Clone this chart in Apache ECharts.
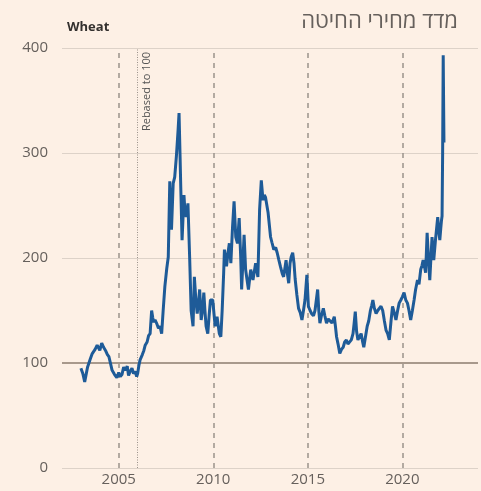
<!DOCTYPE html>
<html>
<head>
<meta charset="utf-8">
<script src="https://cdn.jsdelivr.net/npm/echarts@6/dist/echarts.min.js"></script>
<style>
html,body{margin:0;padding:0;background:#fdf0e5;}
#chart{width:481px;height:491px;}
</style>
</head>
<body>
<div id="chart"></div>
<script>
const titleText = 'מדד מחירי החיטה';
const seriesName = 'Wheat';
const rebaseYear = 2006;
const rebaseLabel = 'Rebased to 100';
const guideYears = [2005, 2010, 2015, 2020];
const yTicks = [0, 100, 200, 300, 400];

const dates = [
2003.0,2003.1,2003.2,2003.35,2003.5,2003.6,2003.75,2003.86,2004.0,2004.1,2004.2,2004.3,2004.4,2004.48,2004.56,2004.65,2004.78,2004.9,
2005.0,2005.08,2005.17,2005.26,2005.35,2005.45,2005.52,2005.6,2005.7,2005.78,2005.87,2005.95,
2006.0,2006.07,2006.13,2006.25,2006.33,2006.4,2006.5,2006.58,2006.66,2006.74,2006.8,2006.85,2006.92,
2007.0,2007.1,2007.18,2007.27,2007.35,2007.44,2007.54,2007.62,2007.7,2007.75,2007.79,2007.88,2007.96,
2008.05,2008.14,2008.19,2008.24,2008.28,2008.35,2008.45,2008.5,2008.57,2008.66,2008.75,2008.83,2008.93,
2009.0,2009.08,2009.15,2009.22,2009.28,2009.36,2009.43,2009.5,2009.56,2009.62,2009.71,2009.78,2009.85,2009.97,
2010.1,2010.2,2010.32,2010.4,2010.47,2010.55,2010.59,2010.7,2010.78,2010.85,2010.93,
2011.02,2011.1,2011.19,2011.28,2011.37,2011.45,2011.5,2011.63,2011.71,2011.78,2011.86,2011.98,
2012.1,2012.24,2012.36,2012.45,2012.54,2012.63,2012.7,2012.76,2012.9,
2013.03,2013.1,2013.2,2013.3,2013.38,2013.47,2013.55,2013.65,2013.72,2013.85,2013.92,2013.99,
2014.06,2014.12,2014.2,2014.27,2014.33,2014.42,2014.51,2014.6,2014.69,2014.77,2014.85,2014.95,
2015.03,2015.12,2015.2,2015.3,2015.38,2015.45,2015.52,2015.58,2015.64,2015.72,2015.82,2015.9,2015.99,
2016.08,2016.17,2016.28,2016.4,2016.46,2016.52,2016.6,2016.69,2016.78,2016.87,2016.95,
2017.04,2017.12,2017.21,2017.3,2017.39,2017.45,2017.51,2017.58,2017.65,2017.73,2017.82,2017.9,2017.96,
2018.05,2018.14,2018.22,2018.31,2018.38,2018.44,2018.52,2018.61,2018.7,2018.78,2018.87,2018.96,
2019.05,2019.14,2019.22,2019.31,2019.4,2019.48,2019.57,2019.66,2019.75,2019.83,2019.92,
2020.0,2020.09,2020.18,2020.27,2020.35,2020.44,2020.53,2020.62,2020.7,2020.8,2020.88,2020.97,
2021.04,2021.1,2021.17,2021.23,2021.31,2021.38,2021.45,2021.51,2021.57,2021.66,2021.75,2021.81,2021.87,2021.93,2021.98,
2022.03,2022.07,2022.1,2022.13,2022.16,2022.18,2022.2
];
const values = [
95,90,82,96,104,109,113,117,112,119,115,112,108,106,100,93,89,86,
91,87,89,96,93,97,88,92,95,90,92,87,
90,98,103,108,112,117,120,126,128,150,143,139,141,
138,133,135,128,150,173,190,201,273,240,227,271,277,
297,322,338,300,268,217,260,245,239,252,201,150,135,
182,160,147,158,170,141,150,167,150,135,128,145,160,160,
135,144,128,125,150,186,208,192,205,214,195,
230,254,220,214,238,201,170,222,189,180,170,189,
179,195,182,246,274,255,260,258,243,
220,215,208,210,205,198,192,185,182,198,185,176,
195,201,205,195,180,165,152,148,141,150,160,184,
154,150,147,145,150,160,170,150,138,145,152,145,138,
142,141,138,144,135,125,118,109,113,115,120,
122,118,117,122,128,138,149,130,122,125,128,120,115,
125,135,140,150,155,160,152,147,150,152,154,150,
140,131,128,122,140,154,148,141,150,157,160,
163,167,160,157,150,141,150,160,170,179,175,189,
193,198,192,186,224,200,179,200,220,198,217,228,239,225,217,
228,236,240,300,393,350,310
];

const data = dates.map((d, i) => [d, values[i]]);

const chart = echarts.init(document.getElementById('chart'), null, {renderer: 'canvas'});
const FONT = "'Open Sans', 'DejaVu Sans', sans-serif";

chart.setOption({
  backgroundColor: '#fdf0e5',
  animation: false,
  title: [
    {text: seriesName, left: 62, top: 16, textStyle: {fontFamily: FONT, fontSize: 13, fontWeight: 'bold', color: '#33302e'}},
    {text: titleText, right: 18, top: 6, textStyle: {fontFamily: FONT, fontSize: 22, fontWeight: 'normal', color: '#66605c'}}
  ],
  grid: {left: 62, right: 0, top: 48, bottom: 23, containLabel: false},
  xAxis: {
    type: 'value', min: 2002, max: 2024, interval: 1,
    axisLine: {show: false}, axisTick: {show: false}, splitLine: {show: false},
    axisLabel: {
      fontFamily: FONT, fontSize: 15, color: '#66605c', margin: 4,
      formatter: v => guideYears.includes(v) ? String(v) : ''
    }
  },
  yAxis: {
    type: 'value', min: 0, max: 400, interval: 100,
    axisLine: {show: false}, axisTick: {show: false},
    splitLine: {lineStyle: {color: '#ddd2c8', width: 1}},
    axisLabel: {fontFamily: FONT, fontSize: 15, color: '#66605c', margin: 14,
      formatter: v => yTicks.includes(v) ? String(v) : ''}
  },
  series: [
    {
      type: 'line',
      name: seriesName,
      data: data,
      showSymbol: false,
      lineStyle: {color: '#1e5b98', width: 3},
      z: 5,
      markLine: {
        silent: true, symbol: 'none', animation: false,
        data: [
          ...guideYears.map(y => ({xAxis: y, lineStyle: {color: '#9a928b', type: [5, 5], width: 1.5}, label: {show: false}})),
          {xAxis: rebaseYear, lineStyle: {color: '#9a928b', type: [1, 1.5], width: 1},
           label: {show: true, formatter: rebaseLabel, position: 'insideEndBottom', fontFamily: FONT, fontSize: 11, color: '#555', distance: 4}},
          {yAxis: 100, lineStyle: {color: '#a8998c', type: 'solid', width: 2}, label: {show: false}}
        ]
      }
    }
  ]
});
</script>
</body>
</html>
